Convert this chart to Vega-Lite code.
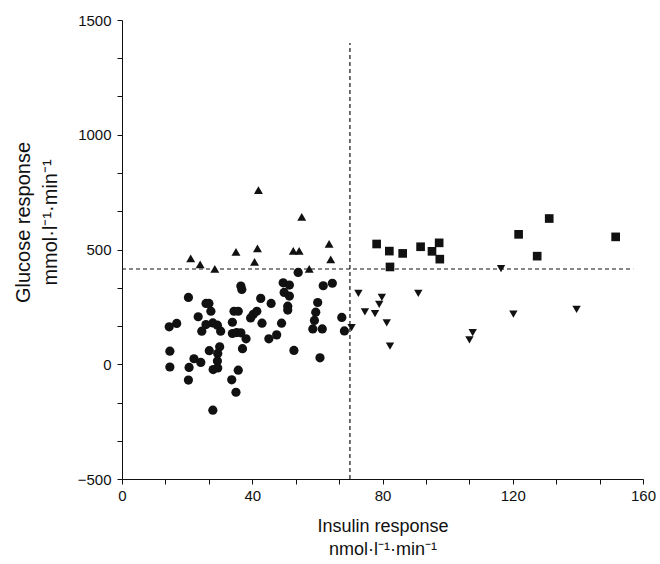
{
  "$schema": "https://vega.github.io/schema/vega-lite/v6.json",
  "width": 521,
  "height": 459,
  "autosize": {"type": "none"},
  "padding": {"left": 122, "top": 20, "right": 17, "bottom": 85},
  "background": "white",
  "config": {
    "view": {"stroke": null},
    "font": "Liberation Sans",
    "axis": {
      "grid": false,
      "domainColor": "#111",
      "tickColor": "#111",
      "labelColor": "#111",
      "titleColor": "#111",
      "labelFont": "Liberation Sans",
      "titleFont": "Liberation Sans",
      "labelFontSize": 15,
      "titleFontSize": 17,
      "titleFontWeight": "normal",
      "tickSize": 5,
      "labelFlush": false,
      "labelOverlap": false
    }
  },
  "datasets": {
    "pts": [
      {"insulin": 54.1, "glucose": 400, "group": "A"},
      {"insulin": 49.5, "glucose": 355, "group": "A"},
      {"insulin": 51.4, "glucose": 345, "group": "A"},
      {"insulin": 36.5, "glucose": 341, "group": "A"},
      {"insulin": 36.8, "glucose": 326, "group": "A"},
      {"insulin": 61.8, "glucose": 342, "group": "A"},
      {"insulin": 64.6, "glucose": 353, "group": "A"},
      {"insulin": 49.8, "glucose": 313, "group": "A"},
      {"insulin": 51.4, "glucose": 297, "group": "A"},
      {"insulin": 20.4, "glucose": 291, "group": "A"},
      {"insulin": 42.6, "glucose": 287, "group": "A"},
      {"insulin": 45.8, "glucose": 265, "group": "A"},
      {"insulin": 60.1, "glucose": 269, "group": "A"},
      {"insulin": 25.8, "glucose": 265, "group": "A"},
      {"insulin": 26.7, "glucose": 265, "group": "A"},
      {"insulin": 50.9, "glucose": 253, "group": "A"},
      {"insulin": 50.9, "glucose": 236, "group": "A"},
      {"insulin": 27.3, "glucose": 231, "group": "A"},
      {"insulin": 23.4, "glucose": 207, "group": "A"},
      {"insulin": 34.4, "glucose": 231, "group": "A"},
      {"insulin": 35.7, "glucose": 231, "group": "A"},
      {"insulin": 41.4, "glucose": 231, "group": "A"},
      {"insulin": 40.3, "glucose": 217, "group": "A"},
      {"insulin": 39.5, "glucose": 202, "group": "A"},
      {"insulin": 59.5, "glucose": 227, "group": "A"},
      {"insulin": 59.1, "glucose": 191, "group": "A"},
      {"insulin": 67.5, "glucose": 204, "group": "A"},
      {"insulin": 25.8, "glucose": 173, "group": "A"},
      {"insulin": 27.9, "glucose": 180, "group": "A"},
      {"insulin": 29.3, "glucose": 170, "group": "A"},
      {"insulin": 33.9, "glucose": 183, "group": "A"},
      {"insulin": 43.0, "glucose": 179, "group": "A"},
      {"insulin": 49.0, "glucose": 179, "group": "A"},
      {"insulin": 14.5, "glucose": 163, "group": "A"},
      {"insulin": 16.8, "glucose": 178, "group": "A"},
      {"insulin": 24.5, "glucose": 144, "group": "A"},
      {"insulin": 30.3, "glucose": 144, "group": "A"},
      {"insulin": 33.9, "glucose": 134, "group": "A"},
      {"insulin": 35.2, "glucose": 138, "group": "A"},
      {"insulin": 36.5, "glucose": 137, "group": "A"},
      {"insulin": 58.6, "glucose": 154, "group": "A"},
      {"insulin": 61.5, "glucose": 154, "group": "A"},
      {"insulin": 68.3, "glucose": 145, "group": "A"},
      {"insulin": 38.1, "glucose": 111, "group": "A"},
      {"insulin": 45.1, "glucose": 111, "group": "A"},
      {"insulin": 47.5, "glucose": 128, "group": "A"},
      {"insulin": 30.0, "glucose": 76, "group": "A"},
      {"insulin": 14.7, "glucose": 57, "group": "A"},
      {"insulin": 26.8, "glucose": 59, "group": "A"},
      {"insulin": 29.4, "glucose": 47, "group": "A"},
      {"insulin": 37.0, "glucose": 68, "group": "A"},
      {"insulin": 52.8, "glucose": 60, "group": "A"},
      {"insulin": 22.1, "glucose": 24, "group": "A"},
      {"insulin": 24.2, "glucose": 8, "group": "A"},
      {"insulin": 29.3, "glucose": 14, "group": "A"},
      {"insulin": 60.8, "glucose": 28, "group": "A"},
      {"insulin": 14.7, "glucose": -12, "group": "A"},
      {"insulin": 20.6, "glucose": -14, "group": "A"},
      {"insulin": 28.0, "glucose": -23, "group": "A"},
      {"insulin": 29.4, "glucose": -16, "group": "A"},
      {"insulin": 35.7, "glucose": -26, "group": "A"},
      {"insulin": 20.4, "glucose": -69, "group": "A"},
      {"insulin": 33.7, "glucose": -68, "group": "A"},
      {"insulin": 35.0, "glucose": -122, "group": "A"},
      {"insulin": 27.9, "glucose": -200, "group": "A"},
      {"insulin": 41.9, "glucose": 759, "group": "B"},
      {"insulin": 55.2, "glucose": 642, "group": "B"},
      {"insulin": 21.1, "glucose": 461, "group": "B"},
      {"insulin": 24.0, "glucose": 435, "group": "B"},
      {"insulin": 28.5, "glucose": 416, "group": "B"},
      {"insulin": 35.0, "glucose": 490, "group": "B"},
      {"insulin": 41.6, "glucose": 505, "group": "B"},
      {"insulin": 40.7, "glucose": 446, "group": "B"},
      {"insulin": 52.6, "glucose": 494, "group": "B"},
      {"insulin": 54.4, "glucose": 494, "group": "B"},
      {"insulin": 57.5, "glucose": 416, "group": "B"},
      {"insulin": 63.6, "glucose": 525, "group": "B"},
      {"insulin": 64.1, "glucose": 457, "group": "B"},
      {"insulin": 78.2, "glucose": 524, "group": "C"},
      {"insulin": 82.1, "glucose": 493, "group": "C"},
      {"insulin": 86.2, "glucose": 483, "group": "C"},
      {"insulin": 82.3, "glucose": 424, "group": "C"},
      {"insulin": 91.7, "glucose": 512, "group": "C"},
      {"insulin": 95.2, "glucose": 492, "group": "C"},
      {"insulin": 97.4, "glucose": 529, "group": "C"},
      {"insulin": 97.6, "glucose": 458, "group": "C"},
      {"insulin": 121.8, "glucose": 566, "group": "C"},
      {"insulin": 127.5, "glucose": 471, "group": "C"},
      {"insulin": 131.2, "glucose": 635, "group": "C"},
      {"insulin": 151.6, "glucose": 555, "group": "C"},
      {"insulin": 72.6, "glucose": 309, "group": "D"},
      {"insulin": 79.8, "glucose": 291, "group": "D"},
      {"insulin": 79.0, "glucose": 261, "group": "D"},
      {"insulin": 74.6, "glucose": 228, "group": "D"},
      {"insulin": 77.7, "glucose": 221, "group": "D"},
      {"insulin": 81.3, "glucose": 180, "group": "D"},
      {"insulin": 82.3, "glucose": 79, "group": "D"},
      {"insulin": 70.5, "glucose": 160, "group": "D"},
      {"insulin": 91.0, "glucose": 309, "group": "D"},
      {"insulin": 116.4, "glucose": 417, "group": "D"},
      {"insulin": 120.2, "glucose": 218, "group": "D"},
      {"insulin": 139.6, "glucose": 239, "group": "D"},
      {"insulin": 107.7, "glucose": 138, "group": "D"},
      {"insulin": 106.7, "glucose": 106, "group": "D"}
    ],
    "lines": [
      {"x": 70, "x2": 70, "y": -500, "y2": 1400},
      {"x": 0, "x2": 157, "y": 415, "y2": 415}
    ]
  },
  "layer": [
    {
      "data": {"name": "lines"},
      "mark": {"type": "rule", "color": "#111", "strokeWidth": 1.2, "strokeDash": [4, 3]},
      "encoding": {
        "x": {"field": "x", "type": "quantitative", "scale": {"domain": [0, 160], "nice": false}},
        "x2": {"field": "x2"},
        "y": {"field": "y", "type": "quantitative", "scale": {"domain": [-500, 1500], "nice": false}},
        "y2": {"field": "y2"}
      }
    },
    {
      "data": {"name": "pts"},
      "mark": {"type": "point", "filled": true, "opacity": 1, "color": "#111"},
      "encoding": {
        "x": {
          "field": "insulin",
          "type": "quantitative",
          "scale": {"domain": [0, 160], "nice": false},
          "axis": {
            "values": [0, 13.333, 26.667, 40, 53.333, 66.667, 80, 93.333, 106.667, 120, 133.333, 146.667, 160],
            "tickCount": 20,
            "labelExpr": "abs(datum.value % 40) < 0.01 ? format(datum.value, 'd') : ''",
            "labelPadding": 4,
            "title": ["Insulin response", "nmol·l⁻¹·min⁻¹"],
            "titleFontSize": 18,
            "titleLineHeight": 23,
            "titlePadding": 14,
            "encode": {"ticks": {"update": {"y2": {"value": -5}}}}
          }
        },
        "y": {
          "field": "glucose",
          "type": "quantitative",
          "scale": {"domain": [-500, 1500], "nice": false},
          "axis": {
            "values": [-500, -333.333, -166.667, 0, 166.667, 333.333, 500, 666.667, 833.333, 1000, 1166.667, 1333.333, 1500],
            "tickCount": 20,
            "labelExpr": "abs(datum.value % 500) < 0.01 ? format(datum.value, 'd') : ''",
            "labelPadding": 6,
            "title": ["Glucose response", "mmol·l⁻¹·min⁻¹"],
            "titleFontSize": 20,
            "titleLineHeight": 27,
            "titleX": -89,
            "titleY": 202,
            "encode": {"ticks": {"update": {"x2": {"value": 5}}}}
          }
        },
        "shape": {
          "field": "group",
          "type": "nominal",
          "scale": {"domain": ["A", "B", "C", "D"], "range": ["circle", "triangle-up", "square", "triangle-down"]},
          "legend": null
        },
        "size": {
          "field": "group",
          "type": "nominal",
          "scale": {"domain": ["A", "B", "C", "D"], "range": [85, 70, 55, 70]},
          "legend": null
        }
      }
    }
  ]
}
